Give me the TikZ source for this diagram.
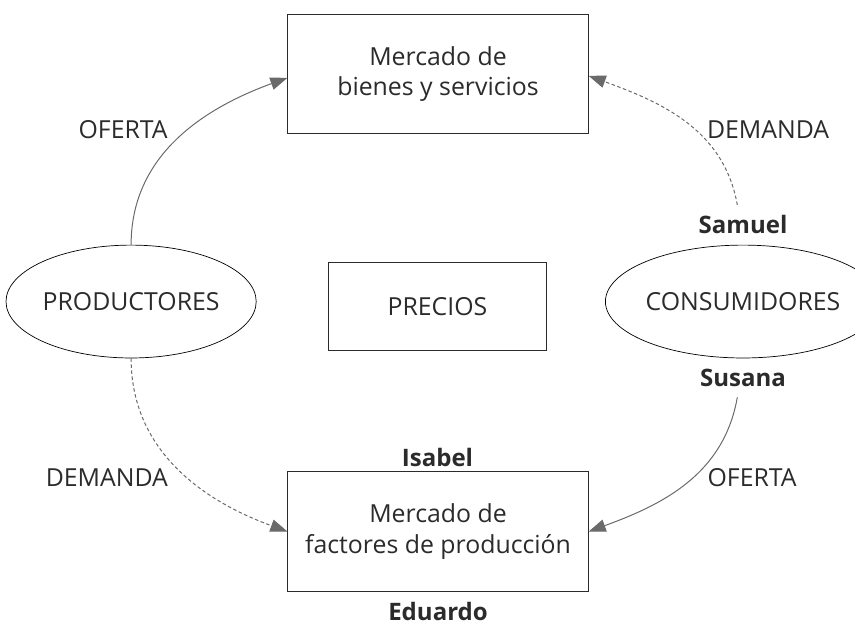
\documentclass[tikz,border=0pt]{standalone}
\usepackage{fontspec}
\setmainfont{Open Sans}
\usepackage{xcolor}
\usepackage{tikz}
\usetikzlibrary{positioning,arrows.meta,shapes.geometric}

\definecolor{txtgray}{HTML}{2B2B2B}
\definecolor{linegray}{HTML}{6A6A6A}

\begin{document}
\begin{tikzpicture}[every node/.style={font=\fontsize{24.8}{30}\selectfont, text=txtgray},
  >={Triangle[length=0.6cm,width=0.44cm]},
  mercado/.style={draw=txtgray, line width=1pt, minimum width=10.53cm, minimum height=4.18cm, align=center},
  agente/.style={draw=black, line width=0.7pt, ellipse, minimum width=8.45cm, minimum height=3.96cm, inner sep=0pt},
  nombre/.style={font=\fontsize{24}{30}\selectfont\bfseries},
  flujo/.style={->, draw=linegray, line width=1pt},
  flujodash/.style={flujo, dash pattern=on 3.5pt off 2.5pt}]
\useasboundingbox (0,0) rectangle (30,-21.93);
\node[mercado] (mbs) at (15.37,-2.61) {Mercado de\\bienes y servicios};
\node[mercado] (mfp) at (15.37,-18.65) {Mercado de\\factores de producción};
\node[draw=txtgray, line width=1pt, minimum width=7.68cm, minimum height=3.09cm] (precios) at (15.35,-10.77) {PRECIOS};
\node[agente] (prod) at (4.60,-10.58) {PRODUCTORES};
\node[agente, minimum width=8.35cm] (cons) at (26.07,-10.58) {CONSUMIDORES};
\node[nombre] (samuel) at (26.07,-7.89) {Samuel};
\node[nombre] (susana) at (26.07,-13.26) {Susana};
\node[nombre] (isabel) at (15.35,-16.04) {Isabel};
\node[nombre] (eduardo) at (15.37,-21.47) {Eduardo};
\node (of1) at (4.32,-4.56) {OFERTA};
\node (dem1) at (26.95,-4.56) {DEMANDA};
\node (dem2) at (3.75,-16.77) {DEMANDA};
\node (of2) at (26.39,-16.77) {OFERTA};
\draw[flujo] (prod.north) to[out=90,in=200] ([yshift=-0.12cm]mbs.west);
\draw[flujodash] ([xshift=-0.2cm,yshift=0.25cm]samuel.north) to[out=100,in=-20] ([yshift=-0.05cm]mbs.east);
\draw[flujodash] (prod.south) to[out=-90,in=160] (mfp.west);
\draw[flujo] ([xshift=-0.2cm,yshift=-0.25cm]susana.south) to[out=-100,in=20] (mfp.east);
\end{tikzpicture}
\end{document}
